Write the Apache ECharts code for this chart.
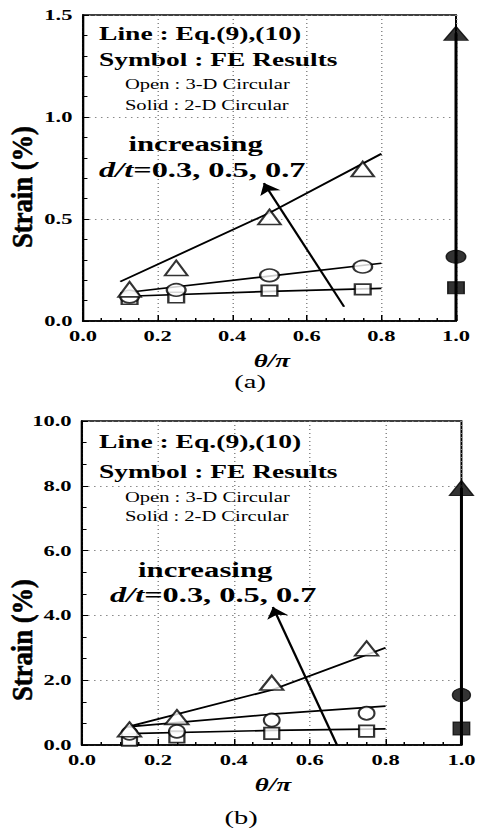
<!DOCTYPE html>
<html><head><meta charset="utf-8">
<script src="https://cdn.jsdelivr.net/npm/echarts@6/dist/echarts.min.js"></script>
<style>
html,body{margin:0;padding:0;background:#fff;overflow:hidden}
/* the figure is drawn at 320px and stretched horizontally to 480px */
#chart{width:320px;height:829px;transform:scaleX(1.5);transform-origin:0 0}
</style></head><body><div id="chart"></div><script>
// angle positions theta/pi
const thetaFE = [0.125, 0.25, 0.5, 0.75];
const thetaEqA = [0.1, 0.5, 0.8];
const thetaEqB = [0.12, 0.5, 0.8];
const theta2D = 1.0;

// axis ticks
const xTicks = [0.0, 0.2, 0.4, 0.6, 0.8, 1.0];
const yTicksA = [0.0, 0.5, 1.0, 1.5];
const yTicksB = [0.0, 2.0, 4.0, 6.0, 8.0, 10.0];

// panel (a): strain (%)
const aTriFE = [0.155, 0.26, 0.51, 0.745];
const aCirFE = [0.12, 0.152, 0.224, 0.266];
const aSqFE  = [0.108, 0.115, 0.149, 0.155];
const aTriEq = [0.193, 0.53, 0.82];
const aCirEq = [0.136, 0.22, 0.283];
const aSqEq  = [0.12, 0.145, 0.16];
const a2D    = [1.41, 0.315, 0.163];   // triangle, circle, square
const aArrow = [[0.70, 0.07], [0.485, 0.676]];

// panel (b): strain (%)
const bTriFE = [0.48, 0.86, 1.92, 2.98];
const bCirFE = [0.36, 0.42, 0.77, 0.98];
const bSqFE  = [0.15, 0.25, 0.36, 0.43];
const bTriEq = [0.56, 1.7, 3.0];
const bCirEq = [0.56, 0.95, 1.2];
const bSqEq  = [0.35, 0.45, 0.5];
const b2D    = [7.93, 1.54, 0.51];
const bArrow = [[0.672, 0.0], [0.503, 4.26]];

const SERIF = '"Liberation Serif","Times New Roman",serif';
const pairs = (xs, ys) => xs.map((x, i) => [x, ys[i]]);

function axes(idx, yTicks, ySplit) {
  const x = {
    type: 'value', gridIndex: idx, min: xTicks[0], max: xTicks[xTicks.length - 1],
    interval: xTicks[1] - xTicks[0],
    axisLine: { show: true, lineStyle: { color: '#000', width: 1.6 } },
    axisTick: { show: true, inside: true, length: 6, lineStyle: { color: '#000', width: 1 } },
    minorTick: { show: true, splitNumber: 4, length: 3, lineStyle: { color: '#000', width: 1 } },
    axisLabel: { color: '#000', fontFamily: SERIF, fontWeight: 'bold', fontSize: 15, margin: 7,
      formatter: v => v.toFixed(1) },
    splitLine: { show: true, lineStyle: { color: '#888', width: 1, type: [1, 3] } }
  };
  const y = {
    type: 'value', gridIndex: idx, min: yTicks[0], max: yTicks[yTicks.length - 1],
    interval: yTicks[1] - yTicks[0],
    axisLine: { show: true, onZero: false, lineStyle: { color: '#000', width: 1.4 } },
    axisTick: { show: true, inside: true, length: 4, lineStyle: { color: '#000', width: 1 } },
    minorTick: { show: true, splitNumber: ySplit, length: 3, lineStyle: { color: '#000', width: 1 } },
    axisLabel: { color: '#000', fontFamily: SERIF, fontWeight: 'bold', fontSize: 15, margin: 7,
      formatter: v => v.toFixed(1) },
    splitLine: { show: true, lineStyle: { color: '#888', width: 1, type: [1, 3] } }
  };
  return [x, y];
}

function panel(idx, d) {
  const open = { color: '#fff', borderColor: '#000', borderWidth: 1.6 };
  const solid = { color: '#000', borderColor: '#000', borderWidth: 1 };
  const eqLine = (ys) => ({
    type: 'line', xAxisIndex: idx, yAxisIndex: idx, data: pairs(d.thetaEq, ys),
    showSymbol: false, symbol: 'none', lineStyle: { color: '#000', width: 1.7 }, z: 2, silent: true, clip: false
  });
  const fe = (ys, sym, size) => ({
    type: 'scatter', xAxisIndex: idx, yAxisIndex: idx, data: pairs(thetaFE, ys),
    symbol: sym, symbolSize: size, itemStyle: open, z: 4, clip: false
  });
  return [
    eqLine(d.sqEq), eqLine(d.cirEq), eqLine(d.triEq),
    fe(d.sqFE, 'rect', d.sqSize), fe(d.cirFE, 'circle', d.cirSize), fe(d.triFE, 'triangle', d.triSize),
    { // 2-D results joined down to the axis at theta = pi
      type: 'line', xAxisIndex: idx, yAxisIndex: idx,
      data: [[theta2D, 0], [theta2D, Math.max(...d.twoD)]],
      symbol: 'none', lineStyle: { color: '#000', width: 2 }, z: 3, clip: false
    },
    {
      type: 'scatter', xAxisIndex: idx, yAxisIndex: idx, z: 5, clip: false, itemStyle: solid,
      data: [
        { value: [theta2D, d.twoD[0]], symbol: 'triangle', symbolSize: d.sTriSize },
        { value: [theta2D, d.twoD[1]], symbol: 'circle', symbolSize: d.sCirSize },
        { value: [theta2D, d.twoD[2]], symbol: 'rect', symbolSize: d.sSqSize }
      ]
    },
    {
      type: 'lines', coordinateSystem: 'cartesian2d', xAxisIndex: idx, yAxisIndex: idx,
      data: [{ coords: d.arrow }], symbol: ['none', 'arrow'], symbolSize: 11,
      lineStyle: { color: '#000', width: 1.6, opacity: 1 }, z: 6, silent: true
    }
  ];
}

function label(x, y, text, size, weight, style) {
  return { type: 'text', x: x, y: y, z: 100, style: Object.assign({
    text: text, fontFamily: SERIF, fontSize: size, fontWeight: weight, fill: '#000',
    textAlign: 'left', textVerticalAlign: 'middle' }, style || {}) };
}
function dtLabel(x, y) {
  return { type: 'text', x: x, y: y, scaleX: 1.08, z: 100, style: {
    text: '{i|d/t}=0.3, 0.5, 0.7', fontFamily: SERIF, fontSize: 20, fontWeight: 'bold', fill: '#000',
    textAlign: 'left', textVerticalAlign: 'middle',
    rich: { i: { fontFamily: SERIF, fontSize: 20, fontWeight: 'bold', fontStyle: 'italic', fill: '#000' } } } };
}
function yTitle(y) {
  return { type: 'text', x: 14.5, y: y, rotation: Math.PI / 2, scaleX: 1.4, z: 100, style: {
    text: 'Strain (%)', fontFamily: SERIF, fontSize: 19, fontWeight: 'bold', fill: '#000',
    stroke: '#000', lineWidth: 0.4,
    textAlign: 'center', textVerticalAlign: 'middle' } };
}
function center(x, y, text, size, weight, fontStyle) {
  return { type: 'text', x: x, y: y, z: 100, style: {
    text: text, fontFamily: SERIF, fontSize: size, fontWeight: weight, fontStyle: fontStyle || 'normal',
    fill: '#000', textAlign: 'center', textVerticalAlign: 'middle' } };
}

const [xa, ya] = axes(0, yTicksA, 5);
const [xb, yb] = axes(1, yTicksB, 3);

const option = {
  animation: false,
  backgroundColor: '#fff',
  grid: [
    { left: 55.3, top: 15, width: 248.7, height: 306, show: true, borderColor: '#000', borderWidth: 1.3, backgroundColor: 'transparent' },
    { left: 54.7, top: 421, width: 254.7, height: 324, show: true, borderColor: '#000', borderWidth: 1.3, backgroundColor: 'transparent' }
  ],
  xAxis: [xa, xb],
  yAxis: [ya, yb],
  series: [
    ...panel(0, { thetaEq: thetaEqA, triFE: aTriFE, cirFE: aCirFE, sqFE: aSqFE, triEq: aTriEq, cirEq: aCirEq, sqEq: aSqEq,
      twoD: a2D, arrow: aArrow, triSize: [15, 15], cirSize: [12.5, 12.5], sqSize: [10.5, 10.5],
      sTriSize: [16, 14], sCirSize: [13, 13], sSqSize: [11, 12] }),
    ...panel(1, { thetaEq: thetaEqB, triFE: bTriFE, cirFE: bCirFE, sqFE: bSqFE, triEq: bTriEq, cirEq: bCirEq, sqEq: bSqEq,
      twoD: b2D, arrow: bArrow, triSize: [15.5, 14.5], cirSize: [10.5, 13], sqSize: [10, 11.5],
      sTriSize: [16, 15], sCirSize: [12, 13.3], sSqSize: [11, 13] })
  ],
  graphic: [
    label(66, 34, 'Line : Eq.(9),(10)', 18.4, 'bold'),
    label(66, 60, 'Symbol : FE Results', 18.3, 'bold'),
    label(83.3, 84.5, 'Open : 3-D Circular', 13.7, 'normal'),
    label(83.3, 105.5, 'Solid : 2-D Circular', 13.7, 'normal'),
    label(85.6, 144, 'increasing', 20.5, 'bold'),
    dtLabel(66, 170.5),
    yTitle(187),
    center(181.3, 361, 'θ/π', 18, 'bold', 'italic'),
    center(166.7, 381, '(a)', 19, 'normal'),

    label(66, 442, 'Line : Eq.(9),(10)', 18.4, 'bold'),
    label(66, 472, 'Symbol : FE Results', 18.3, 'bold'),
    label(83.3, 497.4, 'Open : 3-D Circular', 13.7, 'normal'),
    label(83.3, 516.4, 'Solid : 2-D Circular', 13.7, 'normal'),
    label(92, 570, 'increasing', 20.5, 'bold'),
    dtLabel(73.3, 595.5),
    yTitle(640),
    center(182, 785, 'θ/π', 18, 'bold', 'italic'),
    center(160.7, 817, '(b)', 19, 'normal')
  ]
};

const chart = echarts.init(document.getElementById('chart'), null, { renderer: 'svg', width: 320, height: 829 });
chart.setOption(option);
</script></body></html>
